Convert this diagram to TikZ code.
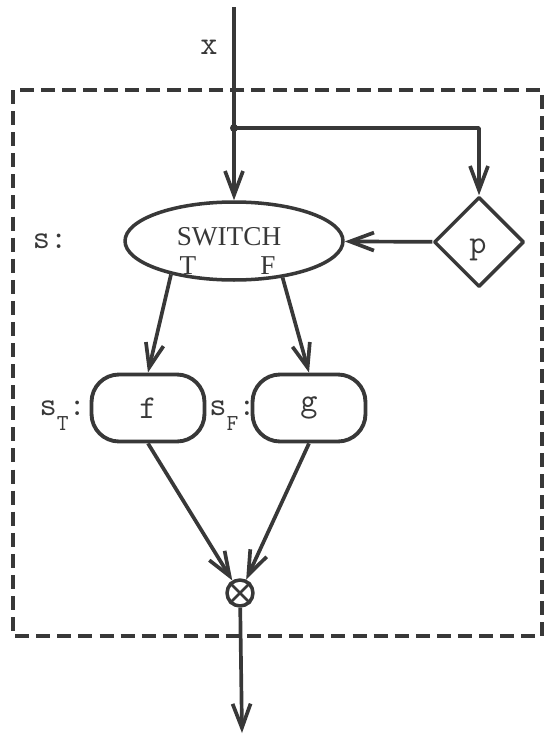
\documentclass[tikz,border=0pt]{standalone}
\usepackage{fontspec}
\setmainfont{Liberation Serif}
\usetikzlibrary{shapes.geometric,arrows.meta,positioning}

\colorlet{ink}{black!78}
\newcommand\tyfont{\fontsize{19}{19}\selectfont\ttfamily}
\newcommand\swfont{\fontsize{15.5}{15.5}\selectfont\rmfamily}
\newcommand\lowsub[1]{\raisebox{-8.5pt}[0pt][0pt]{\fontsize{13}{13}\selectfont #1}}

\begin{document}
\begin{tikzpicture}[x=0.02cm, y=-0.02cm, line join=round,
    every node/.style={text=ink},
    wire/.style={draw=ink, line width=2.1pt},
    flow/.style={wire, -{Straight Barb[length=4.8mm,width=3.6mm]}},
    frame/.style={draw=ink, line width=2pt, dash pattern=on 8pt off 4pt},
    sel/.style={ellipse, draw=ink, line width=2pt, minimum width=4.36cm, minimum height=1.56cm, inner sep=0pt},
    pred/.style={diamond, draw=ink, line width=2pt, minimum width=1.8cm, minimum height=1.8cm, inner sep=0pt},
    proc/.style={rectangle, rounded corners=0.55cm, draw=ink, line width=2.2pt, minimum width=2.26cm, minimum height=1.34cm, font=\tyfont},
    merge/.style={circle, draw=ink, line width=2pt, minimum size=0.52cm, inner sep=0pt},
    lbl/.style={inner sep=0pt, font=\tyfont},
    swtxt/.style={inner sep=0pt, font=\swfont}]
  \useasboundingbox (0,0) rectangle (544,737);

  % block boundary
  \draw[frame] (13,90) rectangle (542,636);

  % switch, predicate and the two branches
  \node[sel] (sw) at (234,241) {};
  \node[swtxt] (swname) at (229,237) {SWITCH};
  \node[swtxt] (swT) at (188,266) {T};
  \node[swtxt] (swF) at (268,266) {F};
  \node[pred] (p) at (479,242) {};
  \node[lbl] (ptxt) at (478,250) {p};
  \node[proc] (f) at (148,408) {f};
  \node[proc] (g) at (309,408) {g};
  \node[merge] (m) at (240,593) {};

  % labels
  \node[lbl] (xlab) at (209,47) {x};
  \node[lbl] (slab) at (50,241) {s:};
  \node[lbl, left=2pt of f] (sT) {s\lowsub{T}:};
  \node[lbl, left=-3pt of g] (sF) {s\lowsub{F}:};

  % input, split point and output
  \coordinate (in) at (234,7);
  \coordinate (split) at (234,128);
  \coordinate (out) at (242,733);

  % connectors
  \draw[wire] (in) -- (split);
  \fill[ink] (split) circle (4);
  \draw[flow] (split) -- (sw);
  \draw[flow] (split) -| (p);
  \draw[flow] (p) -- (sw);
  \draw[flow] (sw.208) -- (f.north);
  \draw[flow] (sw.-37) -- (g.north);
  \draw[flow] (f.south) -- (m);
  \draw[flow] (g.south) -- (m);
  \draw[flow] (m) -- (out);
  \draw[wire, line width=1.5pt] (m.45) -- (m.225) (m.135) -- (m.315);
\end{tikzpicture}
\end{document}
